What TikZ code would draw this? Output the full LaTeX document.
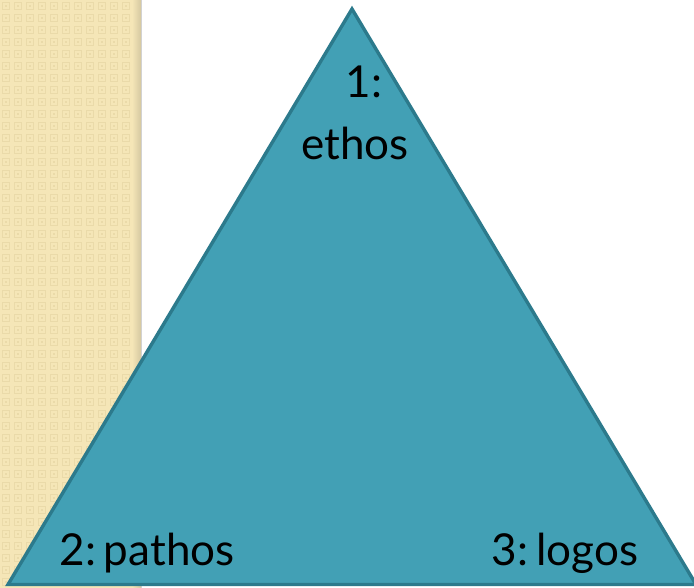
\documentclass[tikz,border=0pt]{standalone}
\usepackage{fontspec}
\setmainfont{Lato}
\definecolor{teal1}{HTML}{42A0B5}
\definecolor{tealedge}{HTML}{2C7A8C}
\definecolor{beige}{HTML}{F5E6B7}
\definecolor{beigedark}{HTML}{EADAA9}
\tikzset{
  lbl/.style={font=\fontsize{44}{62}\selectfont, text=black, inner sep=0pt, anchor=base},
}
\newcommand{\tsp}{\hspace{0.18em}}
\begin{document}
\begin{tikzpicture}[x=1pt,y=-1pt]
\useasboundingbox (0,0) rectangle (694,588);
\fill[white] (0,0) rectangle (694,588);
% patterned strip
\fill[beige] (0,0) rectangle (140,588);
\foreach \i in {0,...,11}{
  \foreach \j in {0,...,49}{
    \draw[beigedark, line width=1.3pt] ({\i*12+2.5},{\j*12+2.5}) rectangle ({\i*12+9.5},{\j*12+9.5});
    \fill[beigedark] ({\i*12+5},{\j*12+5}) rectangle ({\i*12+7},{\j*12+7});
  }
}
\shade[left color=beige, right color=beigedark!80!gray, shading angle=90] (132,0) rectangle (141,588);
\draw[gray!35, line width=1pt] (141.5,0) -- (141.5,588);
% triangle
\coordinate (A) at (352,9);
\coordinate (B) at (8,584.5);
\coordinate (C) at (696,584.5);
\begin{scope}
\clip (0,0) rectangle (694,588);
\filldraw[fill=teal1, draw=tealedge, line width=3.4pt, line join=miter] (A) -- (B) -- (C) -- cycle;
\end{scope}
\node[lbl, align=center] (top) at (355,160) {\hspace*{0.4em}1:\\ethos};
\node[lbl] (left) at (147,565) {2:\tsp pathos};
\node[lbl] (right) at (565,565) {3:\tsp logos};
\end{tikzpicture}
\end{document}
